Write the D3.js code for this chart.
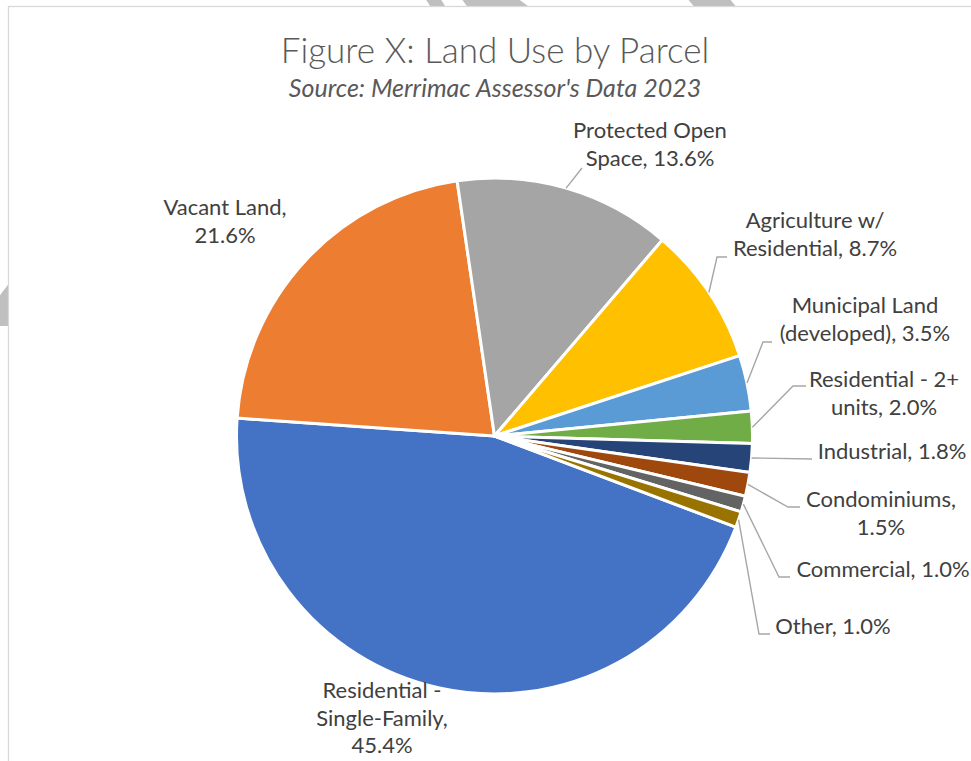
<!DOCTYPE html>
<html>
<head>
<meta charset="utf-8">
<script src="https://cdn.jsdelivr.net/npm/d3@7/dist/d3.min.js"></script>
<style>
  html, body { margin: 0; padding: 0; background: #ffffff; }
  svg { display: block; }
</style>
</head>
<body>
<svg id="chart" width="971" height="761"></svg>
<script>
// Land use shares by parcel, in drawing order (clockwise)
const categories = [
  "Residential - Single-Family",
  "Vacant Land",
  "Protected Open Space",
  "Agriculture w/ Residential",
  "Municipal Land (developed)",
  "Residential - 2+ units",
  "Industrial",
  "Condominiums",
  "Commercial",
  "Other"
];
const shares = [45.4, 21.6, 13.6, 8.7, 3.5, 2.0, 1.8, 1.5, 1.0, 1.0];

// Wrapped label lines as they appear beside each slice
const labelLines = [
  ["Residential -", "Single-Family,", "{v}"],
  ["Vacant Land,", "{v}"],
  ["Protected Open", "Space, {v}"],
  ["Agriculture w/", "Residential, {v}"],
  ["Municipal Land", "(developed), {v}"],
  ["Residential - 2+", "units, {v}"],
  ["Industrial, {v}"],
  ["Condominiums,", "{v}"],
  ["Commercial, {v}"],
  ["Other, {v}"]
];

const colors = ["#4472C4", "#ED7D31", "#A5A5A5", "#FFC000", "#5B9BD5",
                "#70AD47", "#264478", "#9E480E", "#636363", "#997300"];

const title = "Figure X: Land Use by Parcel";
const subtitle = "Source: Merrimac Assessor's Data 2023";

// Label placement: text centre x, first baseline y, and leader path
// (elbow/attach points after the slice edge point); null = no leader.
const labelLayout = [
  { x: 382, y: 698, leader: null },
  { x: 225, y: 215, leader: null },
  { x: 650, y: 138, leader: [[582, 168]] },
  { x: 815, y: 228, leader: [[717, 257], [727, 257]] },
  { x: 865, y: 313, leader: [[763, 342], [772, 342]] },
  { x: 884, y: 387, leader: [[793, 386], [806, 386]] },
  { x: 892, y: 459, leader: [[812, 459]] },
  { x: 881, y: 507, leader: [[788, 507], [800, 507]] },
  { x: 883, y: 577, leader: [[779, 577], [790, 577]] },
  { x: 833, y: 634, leader: [[759, 634], [770, 634]] }
];

const W = 971, H = 761;
const cx = 494.5, cy = 436, R = 258;
const startDeg = 110.7;
const lineGap = 27.5;

const svg = d3.select("#chart");

// faint diagonal dashes of the page behind the chart area
const stripeG = svg.append("g").attr("fill", "#bfbfbf");
[
  [[425, -2], [440, -2], [447, 9], [432, 9]],
  [[461, -2], [517, -2], [532, 9], [469, 9]],
  [[687, -2], [729, -2], [738, 9], [696, 9]],
  [[-2, 298], [10, 282], [10, 326], [-2, 326]]
].forEach(p => stripeG.append("polygon").attr("points", p.map(q => q.join(",")).join(" ")));

// chart area
svg.append("rect")
  .attr("x", 8.5).attr("y", 6.5)
  .attr("width", W + 20).attr("height", H + 20)
  .attr("fill", "#ffffff")
  .attr("stroke", "#d9d9d9")
  .attr("stroke-width", 1.3);

// titles
svg.append("text")
  .attr("x", 495).attr("y", 63)
  .attr("text-anchor", "middle")
  .attr("font-family", "Lato, 'Open Sans', sans-serif")
  .attr("font-weight", 300)
  .attr("font-size", 35)
  .attr("fill", "#595959")
  .text(title);

svg.append("text")
  .attr("x", 495).attr("y", 97)
  .attr("text-anchor", "middle")
  .attr("font-family", "Lato, 'Open Sans', sans-serif")
  .attr("font-style", "italic")
  .attr("font-size", 25)
  .attr("fill", "#595959")
  .text(subtitle);

// pie
const data = categories.map((c, i) => ({ name: c, value: shares[i], idx: i }));
const toRad = d => d * Math.PI / 180;
const pie = d3.pie().sort(null).value(d => d.value)
  .startAngle(toRad(startDeg)).endAngle(toRad(startDeg) + 2 * Math.PI);
const arcs = pie(data);
const arc = d3.arc().innerRadius(0).outerRadius(R);

const g = svg.append("g").attr("transform", `translate(${cx},${cy})`);
g.selectAll("path.slice")
  .data(arcs)
  .join("path")
  .attr("class", "slice")
  .attr("d", arc)
  .attr("fill", d => colors[d.data.idx])
  .attr("stroke", "#ffffff")
  .attr("stroke-width", 3)
  .attr("stroke-linejoin", "round");

// leader lines
const fmt = v => v.toFixed(1) + "%";
const leaderG = svg.append("g")
  .attr("fill", "none")
  .attr("stroke", "#a6a6a6")
  .attr("stroke-width", 1.4);
arcs.forEach((a, i) => {
  const lay = labelLayout[i];
  if (!lay.leader) return;
  const mid = (a.startAngle + a.endAngle) / 2;
  const edge = [cx + R * Math.sin(mid), cy - R * Math.cos(mid)];
  leaderG.append("polyline")
    .attr("points", [edge].concat(lay.leader).map(p => p.join(",")).join(" "));
});

// data labels
const labelG = svg.append("g")
  .attr("font-family", "Lato, 'Open Sans', sans-serif")
  .attr("font-size", 22)
  .attr("fill", "#404040")
  .attr("text-anchor", "middle");
arcs.forEach((a, i) => {
  const lay = labelLayout[i];
  const t = labelG.append("text").attr("x", lay.x).attr("y", lay.y);
  labelLines[i].forEach((ln, k) => {
    t.append("tspan")
      .attr("x", lay.x)
      .attr("y", lay.y + k * lineGap)
      .text(ln.replace("{v}", fmt(a.data.value)));
  });
});
</script>
</body>
</html>
